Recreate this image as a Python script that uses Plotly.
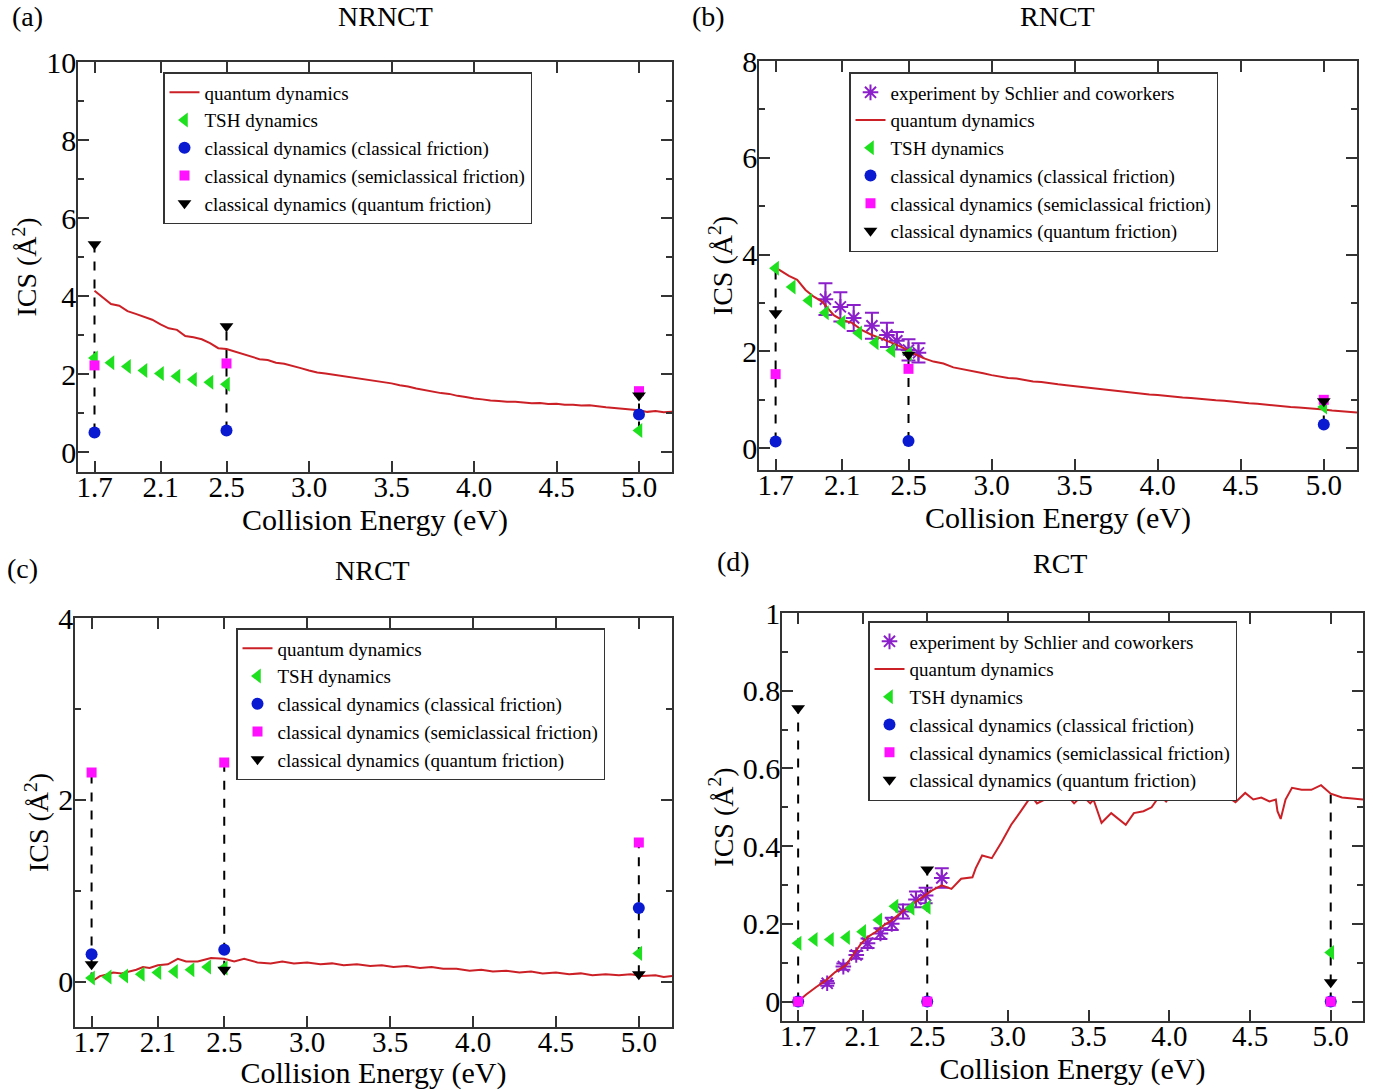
import plotly.graph_objects as go

# ---------------- data ----------------
E_points = [1.7, 2.5, 5.0]
TSH_E = [1.7, 1.8, 1.9, 2.0, 2.1, 2.2, 2.3, 2.4, 2.5, 5.0]

# (a) NRNCT
a_qd_E = [1.70, 1.75, 1.80, 1.85, 1.90, 1.95, 2.00, 2.05, 2.10, 2.15, 2.20, 2.25, 2.30, 2.35, 2.40,
          2.45, 2.50, 2.55, 2.60, 2.65, 2.70, 2.75, 2.80, 2.85, 2.90, 2.95, 3.00, 3.05, 3.10, 3.15,
          3.20, 3.25, 3.30, 3.35, 3.40, 3.45, 3.50, 3.55, 3.60, 3.65, 3.70, 3.75, 3.80, 3.85, 3.90,
          3.95, 4.00, 4.05, 4.10, 4.15, 4.20, 4.25, 4.30, 4.35, 4.40, 4.45, 4.50, 4.55, 4.60, 4.65,
          4.70, 4.75, 4.80, 4.85, 4.90, 4.95, 5.00, 5.05, 5.10, 5.15, 5.20]
a_qd = [4.14, 3.98, 3.80, 3.76, 3.62, 3.55, 3.48, 3.40, 3.28, 3.18, 3.14, 2.98, 2.95, 2.90, 2.80,
        2.67, 2.65, 2.58, 2.52, 2.46, 2.39, 2.37, 2.30, 2.27, 2.22, 2.16, 2.10, 2.05, 2.02, 1.99,
        1.95, 1.93, 1.90, 1.86, 1.83, 1.80, 1.77, 1.72, 1.69, 1.64, 1.60, 1.57, 1.52, 1.50, 1.45,
        1.42, 1.38, 1.36, 1.33, 1.32, 1.30, 1.30, 1.28, 1.26, 1.27, 1.24, 1.25, 1.22, 1.22, 1.20,
        1.21, 1.18, 1.16, 1.14, 1.12, 1.09, 1.08, 1.04, 1.06, 1.03, 1.04]
a_tsh = [2.42, 2.30, 2.20, 2.10, 2.02, 1.95, 1.87, 1.80, 1.75, 0.56]
a_cf = [0.51, 0.56, 0.97]
a_sf = [2.23, 2.28, 1.57]
a_qf = [5.33, 3.23, 1.46]

# (b) RNCT
b_qd_E = [1.70, 1.72, 1.78, 1.83, 1.88, 1.93, 1.98, 2.05, 2.10, 2.16, 2.22, 2.28, 2.35, 2.40, 2.46,
          2.53, 2.59, 2.65, 2.71, 2.77, 2.85, 2.90, 2.95, 3.00, 3.05, 3.10, 3.15, 3.20, 3.25, 3.30,
          3.35, 3.40, 3.45, 3.50, 3.55, 3.60, 3.65, 3.70, 3.75, 3.80, 3.85, 3.90, 3.95, 4.00, 4.05,
          4.10, 4.15, 4.20, 4.25, 4.30, 4.35, 4.40, 4.45, 4.50, 4.55, 4.60, 4.65, 4.70, 4.75, 4.80,
          4.85, 4.90, 4.95, 5.00, 5.05, 5.10, 5.15, 5.20]
b_qd = [3.74, 3.69, 3.56, 3.48, 3.27, 3.13, 3.03, 2.75, 2.65, 2.59, 2.44, 2.34, 2.25, 2.17, 2.09,
        1.96, 1.86, 1.79, 1.75, 1.67, 1.62, 1.58, 1.55, 1.51, 1.48, 1.45, 1.44, 1.41, 1.38, 1.37,
        1.34, 1.32, 1.30, 1.28, 1.27, 1.24, 1.23, 1.20, 1.18, 1.17, 1.14, 1.13, 1.11, 1.10, 1.08,
        1.07, 1.05, 1.04, 1.02, 1.01, 0.99, 0.98, 0.96, 0.95, 0.93, 0.92, 0.90, 0.88, 0.86, 0.85,
        0.84, 0.83, 0.81, 0.80, 0.78, 0.77, 0.75, 0.74]
b_tsh = [3.72, 3.33, 3.05, 2.80, 2.60, 2.38, 2.18, 2.02, 1.95, 0.85]
b_cf = [0.14, 0.15, 0.49]
b_sf = [1.53, 1.64, 1.00]
b_qf = [2.79, 1.93, 0.97]
b_exp_E = [2.00, 2.09, 2.17, 2.28, 2.37, 2.43, 2.50, 2.56]
b_exp = [3.08, 2.92, 2.69, 2.53, 2.34, 2.22, 2.03, 1.97]
b_exp_err = [0.33, 0.30, 0.27, 0.27, 0.25, 0.18, 0.22, 0.20]

# (c) NRCT
c_qd_E = [1.70, 1.75, 1.80, 1.83, 1.88, 1.92, 1.97, 2.01, 2.05, 2.10, 2.16, 2.22, 2.27, 2.34, 2.42,
          2.50, 2.56, 2.62, 2.70, 2.78, 2.85, 2.92, 3.00, 3.08, 3.15, 3.22, 3.30, 3.38, 3.45, 3.52,
          3.60, 3.68, 3.75, 3.82, 3.90, 3.98, 4.05, 4.12, 4.20, 4.28, 4.35, 4.42, 4.50, 4.58, 4.65,
          4.72, 4.80, 4.88, 4.95, 5.02, 5.10, 5.15, 5.20]
c_qd = [0.00, 0.06, 0.08, 0.10, 0.09, 0.11, 0.13, 0.16, 0.15, 0.18, 0.19, 0.25, 0.22, 0.22, 0.26,
        0.25, 0.22, 0.25, 0.21, 0.20, 0.22, 0.20, 0.21, 0.19, 0.20, 0.18, 0.19, 0.17, 0.18, 0.16,
        0.17, 0.15, 0.16, 0.14, 0.14, 0.12, 0.13, 0.11, 0.12, 0.10, 0.11, 0.09, 0.10, 0.08, 0.09,
        0.07, 0.08, 0.07, 0.08, 0.06, 0.07, 0.05, 0.06]
c_tsh = [0.04, 0.05, 0.06, 0.08, 0.10, 0.11, 0.13, 0.16, 0.15, 0.31]
c_cf = [0.30, 0.35, 0.81]
c_sf = [2.30, 2.41, 1.53]
c_qf = [0.19, 0.13, 0.08]

# (d) RCT
d_qd_E = [1.70, 1.75, 1.81, 1.87, 1.93, 2.00, 2.03, 2.09, 2.13, 2.18, 2.23, 2.28, 2.34, 2.41, 2.47,
          2.53, 2.59, 2.65, 2.71, 2.78, 2.80, 2.84, 2.87, 2.90, 2.96, 3.02, 3.08, 3.13, 3.15, 3.18,
          3.23, 3.29, 3.35, 3.39, 3.41, 3.46, 3.51, 3.53, 3.58, 3.64, 3.73, 3.78, 3.84, 3.89, 3.94,
          3.98, 4.02, 4.07, 4.14, 4.21, 4.28, 4.35, 4.41, 4.47, 4.52, 4.57, 4.62, 4.66, 4.67, 4.69,
          4.72, 4.76, 4.82, 4.88, 4.94, 5.00, 5.07, 5.17, 5.20]
d_qd = [0.000, 0.018, 0.037, 0.054, 0.076, 0.095, 0.114, 0.149, 0.166, 0.179, 0.196, 0.209, 0.230, 0.252, 0.269,
        0.286, 0.299, 0.290, 0.316, 0.320, 0.343, 0.376, 0.372, 0.369, 0.410, 0.455, 0.490, 0.520, 0.527, 0.510,
        0.520, 0.545, 0.525, 0.520, 0.510, 0.530, 0.510, 0.520, 0.460, 0.485, 0.455, 0.485, 0.490, 0.500, 0.530,
        0.515, 0.535, 0.537, 0.542, 0.550, 0.537, 0.530, 0.513, 0.537, 0.520, 0.525, 0.515, 0.520, 0.490, 0.470,
        0.520, 0.550, 0.545, 0.545, 0.557, 0.535, 0.525, 0.520, 0.520]
d_tsh = [0.150, 0.160, 0.160, 0.165, 0.180, 0.210, 0.245, 0.240, 0.243, 0.126]
d_cf = [0.0, 0.0, 0.0]
d_sf = [0.0, 0.0, 0.0]
d_qf = [0.755, 0.340, 0.050]
d_exp_E = [1.88, 1.98, 2.06, 2.13, 2.21, 2.28, 2.35, 2.43, 2.49, 2.59]
d_exp = [0.047, 0.090, 0.120, 0.150, 0.175, 0.200, 0.232, 0.263, 0.273, 0.318]
d_exp_err = [0.006, 0.008, 0.010, 0.012, 0.014, 0.016, 0.018, 0.020, 0.020, 0.025]

x_tickvals = [1.7, 2.1, 2.5, 3.0, 3.5, 4.0, 4.5, 5.0]
x_ticktext = ["1.7", "2.1", "2.5", "3.0", "3.5", "4.0", "4.5", "5.0"]

# ---------------- styling ----------------
FONT = "Liberation Serif"
RED = "#cc2027"
GREEN = "#1fe01f"
BLUE = "#0a1ad0"
MAGENTA = "#ff10ff"
PURPLE = "#8b1fc9"
AXC = "#333333"

W, H = 1373, 1090
MB = 40            # bottom margin (room for the lower axis titles)
HP = H - MB        # plot-area height in px


def px_x(a, b):
    return [a / W, b / W]


def py(v):
    # pixel row from the top of the page -> paper fraction
    return (HP - v) / HP


def px_y(top, bottom):
    return [py(bottom), py(top)]


panels = [
    dict(name="a", xd=px_x(78, 672), yd=px_y(62, 472), yr=[-0.5, 10], mdt=1,
         qdE=a_qd_E, qd=a_qd, tsh=a_tsh, cf=a_cf, sf=a_sf, qf=a_qf, exp=None,
         leg=(163, 72)),
    dict(name="b", xd=px_x(759, 1357), yd=px_y(61, 470), yr=[-0.45, 8], mdt=1,
         qdE=b_qd_E, qd=b_qd, tsh=b_tsh, cf=b_cf, sf=b_sf, qf=b_qf,
         exp=(b_exp_E, b_exp, b_exp_err), leg=(849, 72)),
    dict(name="c", xd=px_x(75, 672), yd=px_y(618, 1027), yr=[-0.5, 4], mdt=1,
         qdE=c_qd_E, qd=c_qd, tsh=c_tsh, cf=c_cf, sf=c_sf, qf=c_qf, exp=None,
         leg=(236, 628)),
    dict(name="d", xd=px_x(782, 1363), yd=px_y(613, 1021), yr=[-0.05, 1], mdt=0.1,
         qdE=d_qd_E, qd=d_qd, tsh=d_tsh, cf=d_cf, sf=d_sf, qf=d_qf,
         exp=(d_exp_E, d_exp, d_exp_err), leg=(868, 621)),
]

fig = go.Figure()
layout = dict(
    width=W, height=H, autosize=False,
    margin=dict(l=0, r=0, t=0, b=MB, autoexpand=False),
    paper_bgcolor="white", plot_bgcolor="white",
    font=dict(family=FONT, color="black"),
    annotations=[],
)

for i, p in enumerate(panels):
    n = "" if i == 0 else str(i + 1)
    xa, ya = "x" + n, "y" + n
    leg = "legend" + n
    # dashed connectors between the methods at each energy
    dx, dy = [], []
    for k, e in enumerate(E_points):
        vals = [p["cf"][k], p["sf"][k], p["qf"][k], p["tsh"][len(TSH_E) - 1 - TSH_E[::-1].index(e)]]
        if e in p["qdE"]:
            vals.append(p["qd"][p["qdE"].index(e)])
        dx += [e, e, None]
        dy += [min(vals), max(vals), None]
    fig.add_trace(go.Scatter(x=dx, y=dy, mode="lines", line=dict(color="black", width=2, dash="dash"),
                             showlegend=False, hoverinfo="skip", xaxis=xa, yaxis=ya, legend=leg))
    if p["exp"] is not None:
        ex, ey, ee = p["exp"]
        fig.add_trace(go.Scatter(x=ex, y=ey, mode="markers", name="experiment by Schlier and coworkers",
                                 marker=dict(symbol="asterisk-open", size=13, color=PURPLE,
                                             line=dict(color=PURPLE, width=2)),
                                 error_y=dict(type="data", array=ee, color=PURPLE, thickness=2, width=7),
                                 xaxis=xa, yaxis=ya, legend=leg))
    fig.add_trace(go.Scatter(x=p["qdE"], y=p["qd"], mode="lines", name="quantum dynamics",
                             line=dict(color=RED, width=2), xaxis=xa, yaxis=ya, legend=leg))
    fig.add_trace(go.Scatter(x=TSH_E, y=p["tsh"], mode="markers", name="TSH dynamics",
                             marker=dict(symbol="triangle-left", size=13, color=GREEN),
                             xaxis=xa, yaxis=ya, legend=leg))
    fig.add_trace(go.Scatter(x=E_points, y=p["cf"], mode="markers",
                             name="classical dynamics (classical friction)",
                             marker=dict(symbol="circle", size=12, color=BLUE),
                             xaxis=xa, yaxis=ya, legend=leg))
    fig.add_trace(go.Scatter(x=E_points, y=p["sf"], mode="markers",
                             name="classical dynamics (semiclassical friction)",
                             marker=dict(symbol="square", size=10, color=MAGENTA),
                             xaxis=xa, yaxis=ya, legend=leg))
    fig.add_trace(go.Scatter(x=E_points, y=p["qf"], mode="markers",
                             name="classical dynamics (quantum friction)",
                             marker=dict(symbol="triangle-down", size=12, color="black"),
                             xaxis=xa, yaxis=ya, legend=leg))

    xkey = "xaxis" + n
    ykey = "yaxis" + n
    layout[xkey] = dict(domain=p["xd"], range=[1.6, 5.2], anchor=ya, tickmode="array",
                        tickvals=x_tickvals, ticktext=x_ticktext, ticks="inside", ticklen=11,
                        tickwidth=1.5, tickcolor=AXC, mirror="ticks", showline=True, linecolor=AXC,
                        linewidth=1.5, showgrid=False, zeroline=False, automargin=False,
                        ticklabelstandoff=-12,
                        tickfont=dict(family=FONT, size=29, color="black"),
                        title=dict(text="Collision Energy (eV)", standoff=0,
                                   font=dict(family=FONT, size=30, color="black")))
    if p["name"] == "d":
        ytv = [0, 0.2, 0.4, 0.6, 0.8, 1]
        ytt = ["0", "0.2", "0.4", "0.6", "0.8", "1"]
    else:
        top = p["yr"][1]
        ytv = [v for v in range(0, int(top) + 1, 2)]
        ytt = [str(v) for v in ytv]
    layout[ykey] = dict(domain=p["yd"], range=p["yr"], anchor=xa, tickmode="array",
                        tickvals=ytv, ticktext=ytt, ticks="inside", ticklen=11, tickwidth=1.5,
                        tickcolor=AXC, mirror="ticks", showline=True, linecolor=AXC, linewidth=1.5,
                        showgrid=False, zeroline=False, automargin=False,
                        ticklabelstandoff=-6,
                        minor=dict(ticks="inside", ticklen=6, dtick=p["mdt"], tick0=0,
                                   tickcolor=AXC, tickwidth=1.5, showgrid=False),
                        tickfont=dict(family=FONT, size=30, color="black"),
                        title=dict(text="ICS (Å<sup>2</sup>)", standoff=1,
                                   font=dict(family=FONT, size=28, color="black")))
    lx, ly = p["leg"]
    layout[leg] = dict(x=lx / W, y=py(ly), xref="paper", yref="paper", xanchor="left",
                       yanchor="top", bgcolor="white", bordercolor="#333333", borderwidth=1.5,
                       font=dict(family=FONT, size=19, color="black"), tracegroupgap=0,
                       itemwidth=30)

titles = [("NRNCT", 385, 16), ("RNCT", 1057, 16), ("NRCT", 372, 570), ("RCT", 1060, 563)]
labels = [("(a)", 27, 16), ("(b)", 709, 16), ("(c)", 22, 568), ("(d)", 733, 561)]
for t, x, y in titles + labels:
    layout["annotations"].append(dict(text=t, x=x / W, y=py(y), xref="paper", yref="paper",
                                      xanchor="center", yanchor="middle", showarrow=False,
                                      font=dict(family=FONT, size=28, color="black")))

fig.update_layout(**layout)
fig.write_html("out.html", config={"displayModeBar": False},
               post_script="document.body.style.margin='0';")
